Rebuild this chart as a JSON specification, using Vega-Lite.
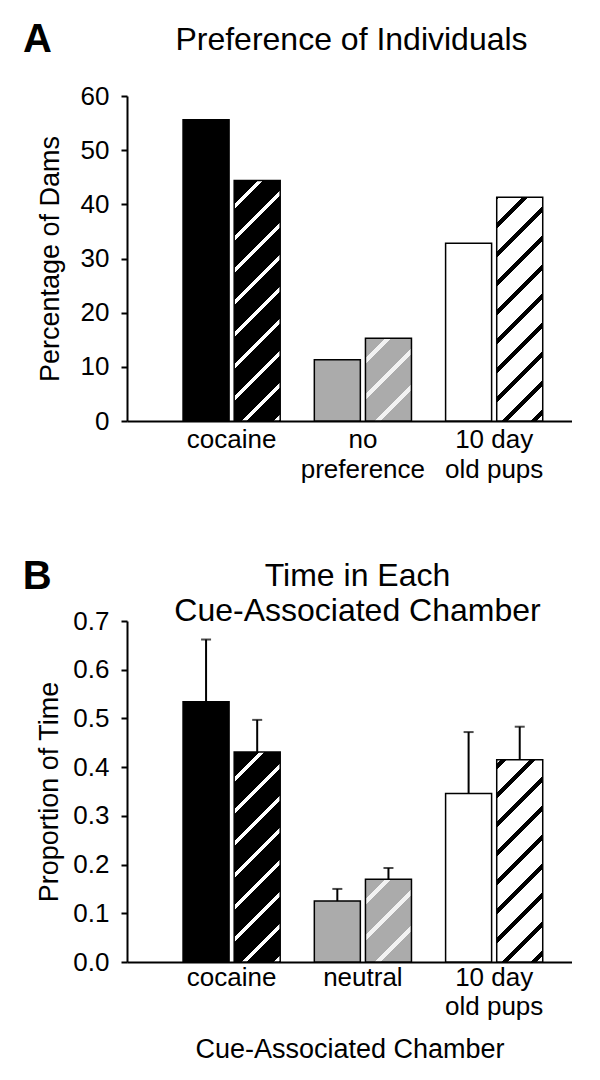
{
  "$schema": "https://vega.github.io/schema/vega-lite/v6.json",
  "background": "white",
  "padding": {"left": 22, "top": 20, "right": 0, "bottom": 0},
  "config": {
    "font": "Liberation Sans",
    "view": {"stroke": null},
    "title": {"color": "#000", "font": "Liberation Sans", "fontWeight": "normal"},
    "axis": {
      "grid": false,
      "labelColor": "#000",
      "titleColor": "#000",
      "domainColor": "#000",
      "tickColor": "#000",
      "labelFont": "Liberation Sans",
      "titleFont": "Liberation Sans",
      "titleFontWeight": "normal",
      "labelFontSize": 26,
      "titleFontSize": 27,
      "domainWidth": 2,
      "tickWidth": 2
    }
  },
  "datasets": {
    "prefs": [
      {"chamber": "cocaine", "group": "first", "value": 55.6},
      {"chamber": "cocaine", "group": "second", "value": 44.4},
      {"chamber": "no preference", "group": "first", "value": 11.3},
      {"chamber": "no preference", "group": "second", "value": 15.3},
      {"chamber": "10 day old pups", "group": "first", "value": 32.8},
      {"chamber": "10 day old pups", "group": "second", "value": 41.3}
    ],
    "time": [
      {"chamber": "cocaine", "group": "first", "value": 0.534, "err": 0.662},
      {"chamber": "cocaine", "group": "second", "value": 0.431, "err": 0.497},
      {"chamber": "neutral", "group": "first", "value": 0.125, "err": 0.150},
      {"chamber": "neutral", "group": "second", "value": 0.170, "err": 0.193},
      {"chamber": "10 day old pups", "group": "first", "value": 0.346, "err": 0.472},
      {"chamber": "10 day old pups", "group": "second", "value": 0.415, "err": 0.483}
    ]
  },
  "resolve": {"scale": {"x": "independent", "y": "independent", "xOffset": "independent", "fill": "independent"}},
  "spacing": 75,
  "vconcat": [
    {
      "title": {"text": "A", "fontSize": 40, "fontWeight": "bold", "anchor": "start", "frame": "bounds", "offset": -36, "dx": -13},
      "vconcat": [
        {
          "width": 445,
          "height": 325,
          "title": {"text": "Preference of Individuals", "fontSize": 32, "anchor": "middle", "dx": 2, "offset": 26},
          "data": {"name": "prefs"},
          "encoding": {
            "x": {
              "field": "chamber", "type": "nominal",
              "scale": {"domain": ["cocaine", "no preference", "10 day old pups"], "paddingInner": 0.26, "paddingOuter": 0.325, "align": 0.657},
              "axis": {
                "title": null, "labelAngle": 0, "ticks": false, "labelPadding": 5, "labelLineHeight": 30,
                "labelLimit": 0, "labelOverlap": false, "labelBound": false,
                "labelExpr": "datum.value === 'no preference' ? ['no', 'preference'] : datum.value === '10 day old pups' ? ['10 day', 'old pups'] : datum.label"
              }
            },
            "xOffset": {"field": "group", "type": "nominal", "scale": {"domain": ["first", "second"], "paddingInner": 0.1, "paddingOuter": 0}},
            "y": {
              "field": "value", "type": "quantitative",
              "scale": {"domain": [0, 60], "nice": false},
              "axis": {"title": "Percentage of Dams", "values": [0, 10, 20, 30, 40, 50, 60], "tickSize": 6, "labelPadding": 12, "titlePadding": 16}
            }
          },
          "layer": [
            {
              "transform": [{"filter": "datum.group === 'first'"}],
              "mark": {"type": "bar", "stroke": "#000", "strokeWidth": 1.5},
              "encoding": {
                "fill": {"field": "chamber", "type": "nominal", "legend": null,
                  "scale": {"domain": ["cocaine", "no preference", "10 day old pups"], "range": ["#000000", "#ababab", "#ffffff"]}}
              }
            },
            {
              "transform": [{"filter": "datum.group === 'second' && datum.chamber === 'cocaine'"}],
              "mark": {"type": "bar", "stroke": "#000", "strokeWidth": 1.5,
                "fill": {"gradient": "linear", "x1": 0, "y1": 0, "x2": 0.2198, "y2": 1.1492, "stops": [
                  {"offset": 0, "color": "#000"},
                  {"offset": 0.0846, "color": "#000"}, {"offset": 0.0846, "color": "#fff"}, {"offset": 0.1004, "color": "#fff"}, {"offset": 0.1004, "color": "#000"},
                  {"offset": 0.1963, "color": "#000"}, {"offset": 0.1963, "color": "#fff"}, {"offset": 0.2120, "color": "#fff"}, {"offset": 0.2120, "color": "#000"},
                  {"offset": 0.3080, "color": "#000"}, {"offset": 0.3080, "color": "#fff"}, {"offset": 0.3237, "color": "#fff"}, {"offset": 0.3237, "color": "#000"},
                  {"offset": 0.4197, "color": "#000"}, {"offset": 0.4197, "color": "#fff"}, {"offset": 0.4354, "color": "#fff"}, {"offset": 0.4354, "color": "#000"},
                  {"offset": 0.5314, "color": "#000"}, {"offset": 0.5314, "color": "#fff"}, {"offset": 0.5471, "color": "#fff"}, {"offset": 0.5471, "color": "#000"},
                  {"offset": 0.6431, "color": "#000"}, {"offset": 0.6431, "color": "#fff"}, {"offset": 0.6588, "color": "#fff"}, {"offset": 0.6588, "color": "#000"},
                  {"offset": 0.7548, "color": "#000"}, {"offset": 0.7548, "color": "#fff"}, {"offset": 0.7705, "color": "#fff"}, {"offset": 0.7705, "color": "#000"},
                  {"offset": 0.8665, "color": "#000"}, {"offset": 0.8665, "color": "#fff"}, {"offset": 0.8822, "color": "#fff"}, {"offset": 0.8822, "color": "#000"},
                  {"offset": 0.9782, "color": "#000"}, {"offset": 0.9782, "color": "#fff"}, {"offset": 0.9939, "color": "#fff"}, {"offset": 0.9939, "color": "#000"},
                  {"offset": 1, "color": "#000"}
                ]}
              }
            },
            {
              "transform": [{"filter": "datum.group === 'second' && datum.chamber === 'no preference'"}],
              "mark": {"type": "bar", "stroke": "#000", "strokeWidth": 1.5,
                "fill": {"gradient": "linear", "x1": 0, "y1": 0, "x2": 0.6597, "y2": 1.1888, "stops": [
                  {"offset": 0, "color": "#ababab"},
                  {"offset": 0.1544, "color": "#ababab"}, {"offset": 0.1544, "color": "#f2f2f2"}, {"offset": 0.2009, "color": "#f2f2f2"}, {"offset": 0.2009, "color": "#ababab"},
                  {"offset": 0.4337, "color": "#ababab"}, {"offset": 0.4337, "color": "#f2f2f2"}, {"offset": 0.4802, "color": "#f2f2f2"}, {"offset": 0.4802, "color": "#ababab"},
                  {"offset": 0.7130, "color": "#ababab"}, {"offset": 0.7130, "color": "#f2f2f2"}, {"offset": 0.7595, "color": "#f2f2f2"}, {"offset": 0.7595, "color": "#ababab"},
                  {"offset": 1, "color": "#ababab"}
                ]}
              }
            },
            {
              "transform": [{"filter": "datum.group === 'second' && datum.chamber === '10 day old pups'"}],
              "mark": {"type": "bar", "stroke": "#000", "strokeWidth": 1.5,
                "fill": {"gradient": "linear", "x1": 0, "y1": 0, "x2": 0.2379, "y2": 1.1567, "stops": [
                  {"offset": 0, "color": "#000"}, {"offset": 0.0109, "color": "#000"}, {"offset": 0.0109, "color": "#fff"},
                  {"offset": 0.0944, "color": "#fff"}, {"offset": 0.0944, "color": "#000"}, {"offset": 0.1185, "color": "#000"}, {"offset": 0.1185, "color": "#fff"},
                  {"offset": 0.2019, "color": "#fff"}, {"offset": 0.2019, "color": "#000"}, {"offset": 0.2260, "color": "#000"}, {"offset": 0.2260, "color": "#fff"},
                  {"offset": 0.3094, "color": "#fff"}, {"offset": 0.3094, "color": "#000"}, {"offset": 0.3335, "color": "#000"}, {"offset": 0.3335, "color": "#fff"},
                  {"offset": 0.4169, "color": "#fff"}, {"offset": 0.4169, "color": "#000"}, {"offset": 0.4410, "color": "#000"}, {"offset": 0.4410, "color": "#fff"},
                  {"offset": 0.5245, "color": "#fff"}, {"offset": 0.5245, "color": "#000"}, {"offset": 0.5486, "color": "#000"}, {"offset": 0.5486, "color": "#fff"},
                  {"offset": 0.6320, "color": "#fff"}, {"offset": 0.6320, "color": "#000"}, {"offset": 0.6561, "color": "#000"}, {"offset": 0.6561, "color": "#fff"},
                  {"offset": 0.7395, "color": "#fff"}, {"offset": 0.7395, "color": "#000"}, {"offset": 0.7636, "color": "#000"}, {"offset": 0.7636, "color": "#fff"},
                  {"offset": 0.8470, "color": "#fff"}, {"offset": 0.8470, "color": "#000"}, {"offset": 0.8712, "color": "#000"}, {"offset": 0.8712, "color": "#fff"},
                  {"offset": 0.9546, "color": "#fff"}, {"offset": 0.9546, "color": "#000"}, {"offset": 0.9787, "color": "#000"}, {"offset": 0.9787, "color": "#fff"},
                  {"offset": 1, "color": "#fff"}
                ]}
              }
            }
          ]
        }
      ]
    },
    {
      "title": {"text": "B", "fontSize": 40, "fontWeight": "bold", "anchor": "start", "frame": "bounds", "offset": -37, "dx": -13},
      "vconcat": [
        {
          "width": 445,
          "height": 341,
          "title": {"text": ["Time in Each", "Cue-Associated Chamber"], "fontSize": 32, "lineHeight": 35, "anchor": "middle", "dx": 8, "offset": -20},
          "data": {"name": "time"},
          "encoding": {
            "x": {
              "field": "chamber", "type": "nominal",
              "scale": {"domain": ["cocaine", "neutral", "10 day old pups"], "paddingInner": 0.26, "paddingOuter": 0.325, "align": 0.657},
              "axis": {
                "title": "Cue-Associated Chamber", "titlePadding": 17, "labelAngle": 0, "ticks": false, "labelPadding": 2, "labelLineHeight": 29,
                "labelLimit": 0, "labelOverlap": false, "labelBound": false,
                "labelExpr": "datum.value === '10 day old pups' ? ['10 day', 'old pups'] : datum.label"
              }
            },
            "xOffset": {"field": "group", "type": "nominal", "scale": {"domain": ["first", "second"], "paddingInner": 0.1, "paddingOuter": 0}},
            "y": {
              "field": "value", "type": "quantitative",
              "scale": {"domain": [0, 0.7], "nice": false},
              "axis": {"title": "Proportion of Time", "values": [0, 0.1, 0.2, 0.3, 0.4, 0.5, 0.6, 0.7], "format": ".1f", "tickSize": 6, "labelPadding": 12, "titlePadding": 9}
            }
          },
          "layer": [
            {
              "transform": [{"filter": "datum.group === 'first'"}],
              "mark": {"type": "bar", "stroke": "#000", "strokeWidth": 1.5},
              "encoding": {
                "fill": {"field": "chamber", "type": "nominal", "legend": null,
                  "scale": {"domain": ["cocaine", "neutral", "10 day old pups"], "range": ["#000000", "#ababab", "#ffffff"]}}
              }
            },
            {
              "transform": [{"filter": "datum.group === 'second' && datum.chamber === 'cocaine'"}],
              "mark": {"type": "bar", "stroke": "#000", "strokeWidth": 1.5,
                "fill": {"gradient": "linear", "x1": 0, "y1": 0, "x2": 0.2548, "y2": 1.1632, "stops": [
                  {"offset": 0, "color": "#000"},
                  {"offset": 0.1006, "color": "#000"}, {"offset": 0.1006, "color": "#fff"}, {"offset": 0.1182, "color": "#fff"}, {"offset": 0.1182, "color": "#000"},
                  {"offset": 0.2256, "color": "#000"}, {"offset": 0.2256, "color": "#fff"}, {"offset": 0.2432, "color": "#fff"}, {"offset": 0.2432, "color": "#000"},
                  {"offset": 0.3506, "color": "#000"}, {"offset": 0.3506, "color": "#fff"}, {"offset": 0.3682, "color": "#fff"}, {"offset": 0.3682, "color": "#000"},
                  {"offset": 0.4756, "color": "#000"}, {"offset": 0.4756, "color": "#fff"}, {"offset": 0.4932, "color": "#fff"}, {"offset": 0.4932, "color": "#000"},
                  {"offset": 0.6006, "color": "#000"}, {"offset": 0.6006, "color": "#fff"}, {"offset": 0.6182, "color": "#fff"}, {"offset": 0.6182, "color": "#000"},
                  {"offset": 0.7256, "color": "#000"}, {"offset": 0.7256, "color": "#fff"}, {"offset": 0.7432, "color": "#fff"}, {"offset": 0.7432, "color": "#000"},
                  {"offset": 0.8506, "color": "#000"}, {"offset": 0.8506, "color": "#fff"}, {"offset": 0.8682, "color": "#fff"}, {"offset": 0.8682, "color": "#000"},
                  {"offset": 0.9756, "color": "#000"}, {"offset": 0.9756, "color": "#fff"}, {"offset": 0.9932, "color": "#fff"}, {"offset": 0.9932, "color": "#000"},
                  {"offset": 1, "color": "#000"}
                ]}
              }
            },
            {
              "transform": [{"filter": "datum.group === 'second' && datum.chamber === 'neutral'"}],
              "mark": {"type": "bar", "stroke": "#000", "strokeWidth": 1.5,
                "fill": {"gradient": "linear", "x1": 0, "y1": 0, "x2": 0.6597, "y2": 1.1888, "stops": [
                  {"offset": 0, "color": "#ababab"},
                  {"offset": 0.1544, "color": "#ababab"}, {"offset": 0.1544, "color": "#f2f2f2"}, {"offset": 0.2009, "color": "#f2f2f2"}, {"offset": 0.2009, "color": "#ababab"},
                  {"offset": 0.4337, "color": "#ababab"}, {"offset": 0.4337, "color": "#f2f2f2"}, {"offset": 0.4802, "color": "#f2f2f2"}, {"offset": 0.4802, "color": "#ababab"},
                  {"offset": 0.7130, "color": "#ababab"}, {"offset": 0.7130, "color": "#f2f2f2"}, {"offset": 0.7595, "color": "#f2f2f2"}, {"offset": 0.7595, "color": "#ababab"},
                  {"offset": 1, "color": "#ababab"}
                ]}
              }
            },
            {
              "transform": [{"filter": "datum.group === 'second' && datum.chamber === '10 day old pups'"}],
              "mark": {"type": "bar", "stroke": "#000", "strokeWidth": 1.5,
                "fill": {"gradient": "linear", "x1": 0, "y1": 0, "x2": 0.2657, "y2": 1.1671, "stops": [
                  {"offset": 0, "color": "#fff"},
                  {"offset": 0.0155, "color": "#fff"}, {"offset": 0.0155, "color": "#000"}, {"offset": 0.0417, "color": "#000"}, {"offset": 0.0417, "color": "#fff"},
                  {"offset": 0.1324, "color": "#fff"}, {"offset": 0.1324, "color": "#000"}, {"offset": 0.1586, "color": "#000"}, {"offset": 0.1586, "color": "#fff"},
                  {"offset": 0.2493, "color": "#fff"}, {"offset": 0.2493, "color": "#000"}, {"offset": 0.2755, "color": "#000"}, {"offset": 0.2755, "color": "#fff"},
                  {"offset": 0.3662, "color": "#fff"}, {"offset": 0.3662, "color": "#000"}, {"offset": 0.3924, "color": "#000"}, {"offset": 0.3924, "color": "#fff"},
                  {"offset": 0.4831, "color": "#fff"}, {"offset": 0.4831, "color": "#000"}, {"offset": 0.5093, "color": "#000"}, {"offset": 0.5093, "color": "#fff"},
                  {"offset": 0.6000, "color": "#fff"}, {"offset": 0.6000, "color": "#000"}, {"offset": 0.6262, "color": "#000"}, {"offset": 0.6262, "color": "#fff"},
                  {"offset": 0.7168, "color": "#fff"}, {"offset": 0.7168, "color": "#000"}, {"offset": 0.7430, "color": "#000"}, {"offset": 0.7430, "color": "#fff"},
                  {"offset": 0.8337, "color": "#fff"}, {"offset": 0.8337, "color": "#000"}, {"offset": 0.8599, "color": "#000"}, {"offset": 0.8599, "color": "#fff"},
                  {"offset": 0.9506, "color": "#fff"}, {"offset": 0.9506, "color": "#000"}, {"offset": 0.9768, "color": "#000"}, {"offset": 0.9768, "color": "#fff"},
                  {"offset": 1, "color": "#fff"}
                ]}
              }
            },
            {
              "mark": {"type": "rule", "color": "#000", "strokeWidth": 2},
              "encoding": {"y": {"field": "value", "type": "quantitative"}, "y2": {"field": "err"}}
            },
            {
              "mark": {"type": "tick", "color": "#000", "size": 10, "thickness": 2},
              "encoding": {"y": {"field": "err", "type": "quantitative"}}
            }
          ]
        }
      ]
    }
  ]
}
